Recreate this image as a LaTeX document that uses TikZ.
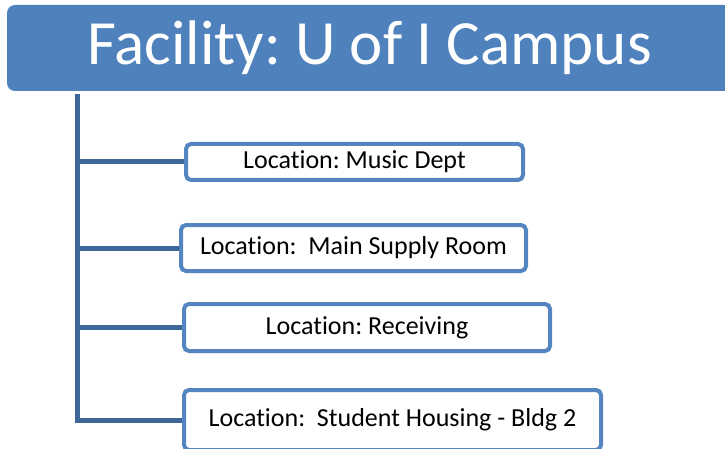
\documentclass[tikz,border=0pt]{standalone}
\usepackage{fontspec}
\setmainfont{Carlito}[Ligatures={NoCommon}]
\frenchspacing
\usepackage{tikz}
\usetikzlibrary{positioning,calc}

\definecolor{hdrblue}{HTML}{4F81BD}
\definecolor{linkblue}{HTML}{3C6798}
\definecolor{boxblue}{HTML}{5585C0}

\tikzset{
  locbox/.style={draw=boxblue, line width=4pt, rounded corners=5pt, fill=white, inner sep=0pt, font=\fontsize{26}{30}\selectfont},
  trunk/.style={draw=linkblue, line width=5pt}
}

\begin{document}
\begin{tikzpicture}[x=1pt,y=-1pt]
    \useasboundingbox (0,0) rectangle (725,449);

    \node[fill=hdrblue, rounded corners=8pt, minimum width=725pt, minimum height=86pt, inner sep=0pt] (hdr) at (369.5,48) {};
    \node[anchor=base, text=white, font=\fontsize{63}{70}\selectfont, inner sep=0pt] (title) at (369.5,65) {Facility: U of I Campus};

    \node[locbox, minimum width=337pt, minimum height=36pt] (loc1) at (354.5,162) {Location: Music Dept};
    \node[locbox, minimum width=345pt, minimum height=46pt] (loc2) at (353.5,248) {Location:~~Main Supply Room};
    \node[locbox, minimum width=366pt, minimum height=47pt] (loc3) at (367,327.5) {Location: Receiving};
    \node[locbox, minimum width=417pt, minimum height=60pt] (loc4) at (392.5,420) {Location:~~Student Housing - Bldg 2};

    \coordinate (spine) at (77,0);
    \draw[trunk] ([yshift=-3pt]hdr.south -| spine) |- (loc4.west);
    \draw[trunk] (spine |- loc1.west) -- (loc1.west);
    \draw[trunk] (spine |- loc2.west) -- (loc2.west);
    \draw[trunk] (spine |- loc3.west) -- (loc3.west);
\end{tikzpicture}
\end{document}
